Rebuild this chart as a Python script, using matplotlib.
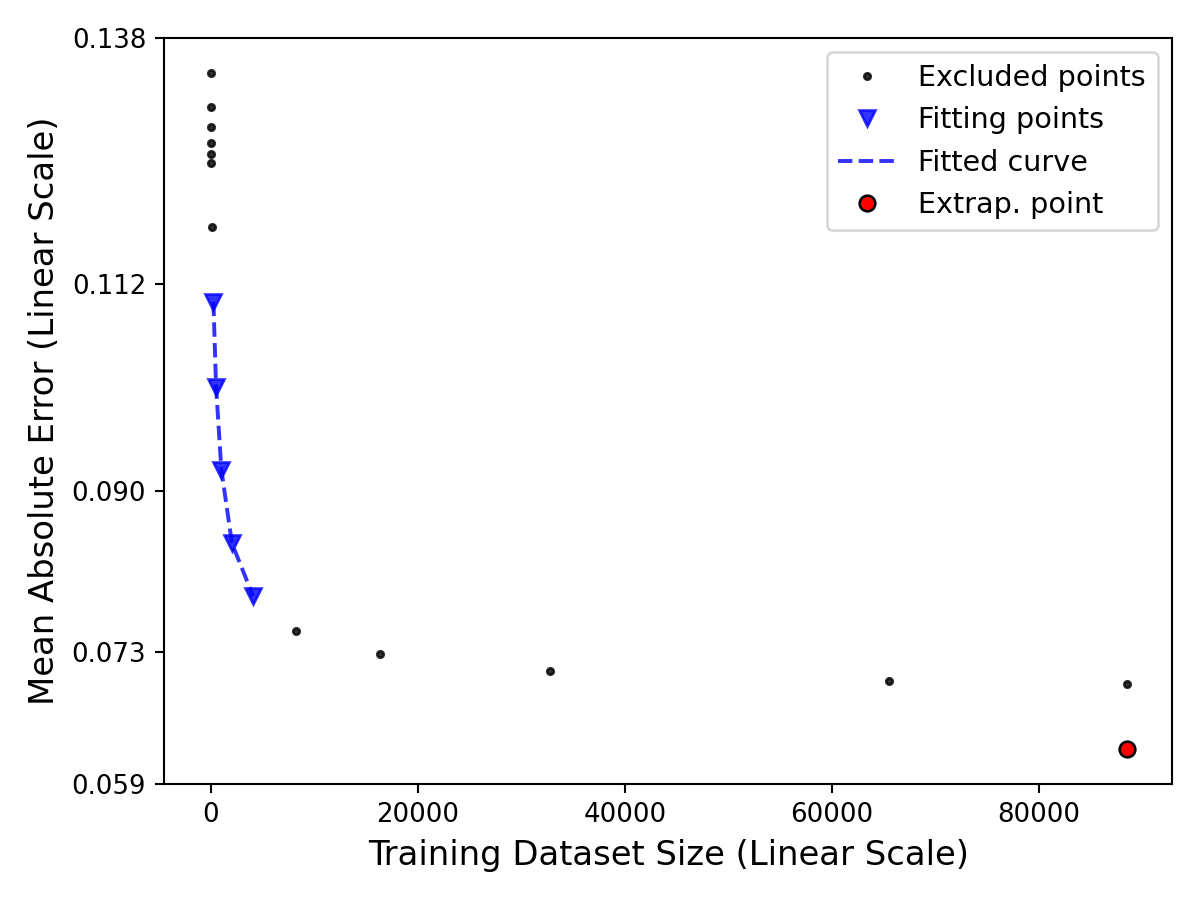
import matplotlib
matplotlib.use("Agg")
import matplotlib.pyplot as plt
import numpy as np

# excluded points (before and after the fitting window)
excl_x = [2, 4, 8, 16, 32, 64, 128, 8192, 16384, 32768, 65536, 88500]
excl_y = [0.1343, 0.1307, 0.1286, 0.1269, 0.1257, 0.1248, 0.1180,
          0.0752, 0.0728, 0.0710, 0.0699, 0.0696]

# fitting points
fit_x = [256, 512, 1024, 2048, 4096]
fit_y = [0.1101, 0.1011, 0.0923, 0.0845, 0.0789]

# extrapolated point
extrap_x = [88500]
extrap_y = [0.0627]

yticks = [0.059, 0.073, 0.090, 0.112, 0.138]

fig, ax = plt.subplots(figsize=(6.4, 4.8), dpi=187.5)

ax.plot(excl_x, excl_y, 'k.', alpha=0.8, markersize=5, label='Excluded points')
ax.plot(fit_x, fit_y, 'bv', alpha=0.8, markersize=6, label='Fitting points')
ax.plot(fit_x, fit_y, 'b--', alpha=0.8, label='Fitted curve')
ax.plot(extrap_x, extrap_y, 'o', color='red', markeredgecolor='black',
        markersize=6, label='Extrap. point')

ax.set_ylim(0.059, 0.138)
ax.set_yticks(yticks)
ax.set_yticklabels([f"{t:.3f}" for t in yticks])
ax.set_xlim(-4480, 92850)
ax.set_xlabel("Training Dataset Size (Linear Scale)", fontsize=13)
ax.set_ylabel("Mean Absolute Error (Linear Scale)", fontsize=13)
ax.legend(loc='upper right', fontsize=11)

plt.tight_layout()
plt.savefig("out.png", dpi=187.5)
